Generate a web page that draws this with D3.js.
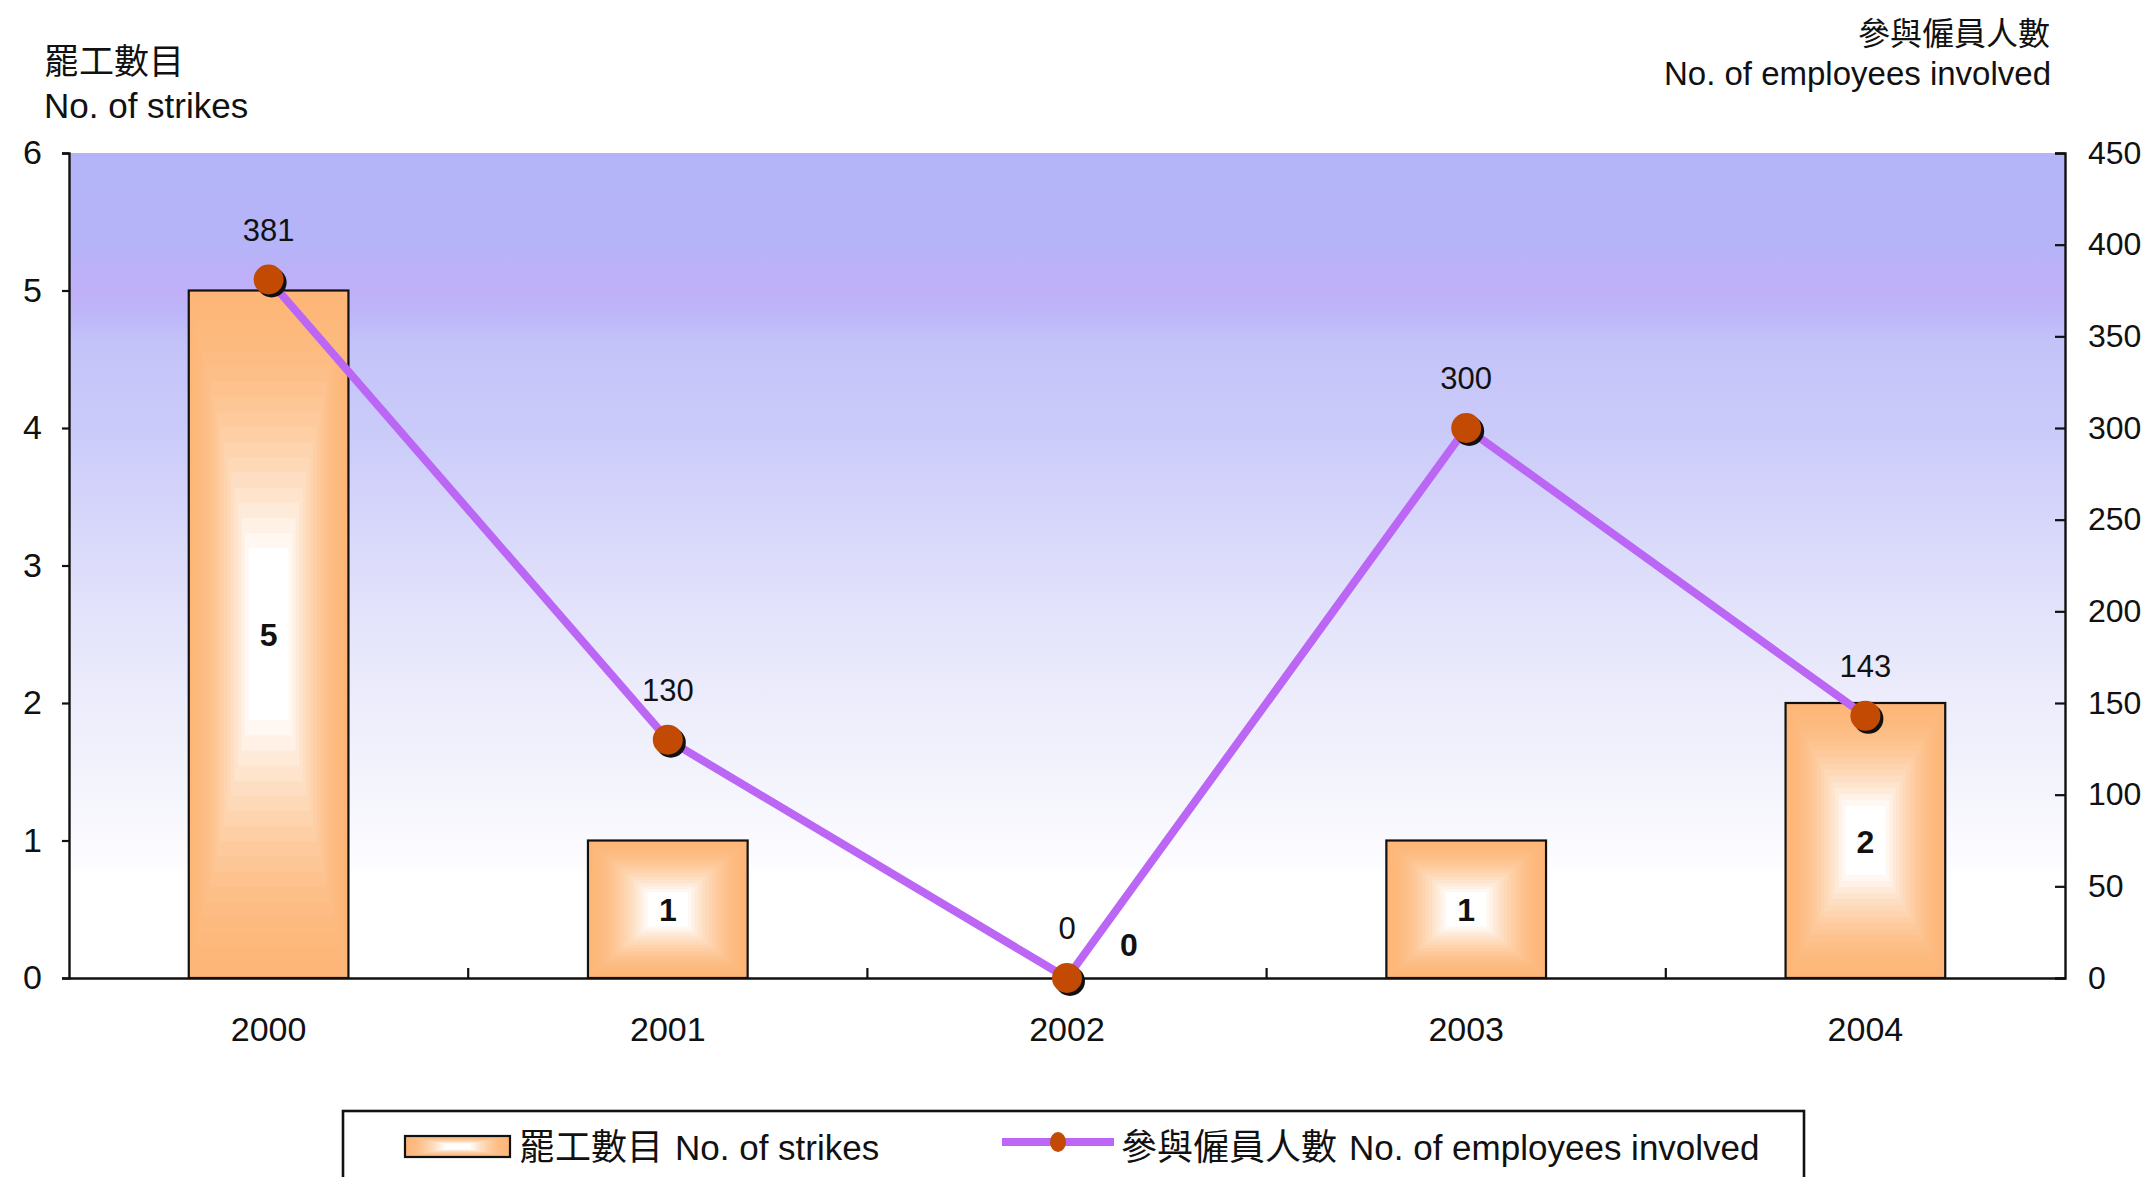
<!DOCTYPE html>
<html>
<head>
<meta charset="utf-8">
<script src="https://cdn.jsdelivr.net/npm/d3@7"></script>
<style>
  html, body { margin: 0; padding: 0; background: #ffffff; }
  svg { display: block; }
  text { font-family: "Liberation Sans", Arial, "Noto Sans CJK TC", sans-serif; fill: #111; }
</style>
</head>
<body>
<svg id="chart" width="2151" height="1177"></svg>
<script>
const years = ["2000", "2001", "2002", "2003", "2004"];
const strikes = [5, 1, 0, 1, 2];
const employees = [381, 130, 0, 300, 143];
const leftTicks = [0, 1, 2, 3, 4, 5, 6];
const rightTicks = [0, 50, 100, 150, 200, 250, 300, 350, 400, 450];

const leftTitleZh = "罷工數目";
const leftTitleEn = "No. of strikes";
const rightTitleZh = "參與僱員人數";
const rightTitleEn = "No. of employees involved";

const plot = { left: 69, right: 2065, top: 153, bottom: 978 };
const cjk = "'Noto Sans CJK TC', sans-serif";

const svg = d3.select("#chart");
const defs = svg.append("defs");

// Background gradient
const bg = defs.append("linearGradient").attr("id", "bgGrad")
  .attr("x1", 0).attr("y1", 0).attr("x2", 0).attr("y2", 1);
[[0, "#b4b4f8"], [0.11, "#b6b4f8"], [0.145, "#bdb1f8"], [0.17, "#c0b0f8"], [0.195, "#bdb6f8"],
 [0.23, "#c3c3f9"], [0.33, "#cacafa"], [0.44, "#d6d6fa"], [0.56, "#e3e3fb"],
 [0.67, "#ededfc"], [0.78, "#f5f5fd"], [0.84, "#fafaff"], [0.88, "#ffffff"], [1, "#ffffff"]]
  .forEach(([o, c]) => bg.append("stop").attr("offset", o).attr("stop-color", c));

const x = d3.scaleBand().domain(years).range([plot.left, plot.right]).padding(0);
const yL = d3.scaleLinear().domain([0, 6]).range([plot.bottom, plot.top]);
const yR = d3.scaleLinear().domain([0, 450]).range([plot.bottom, plot.top]);

svg.append("rect")
  .attr("x", plot.left).attr("y", plot.top)
  .attr("width", plot.right - plot.left).attr("height", plot.bottom - plot.top)
  .attr("fill", "url(#bgGrad)");

const barW = x.bandwidth() * 0.4;
const edgeColor = "#fdb677";
const interp = d3.interpolateRgb(edgeColor, "#ffffff");
const steps = 18;

function boxGradient(g, x0, y0, w, h, shrink) {
  for (let i = 0; i < steps; i++) {
    const t = i / (steps - 1);
    const k = 1 - shrink * t;
    const ww = w * k, hh = h * k;
    g.append("rect")
      .attr("x", x0 + (w - ww) / 2).attr("y", y0 + (h - hh) / 2)
      .attr("width", ww).attr("height", hh)
      .attr("fill", interp(Math.pow(t, 1.7)));
  }
}

// Bars
const bars = svg.append("g");
years.forEach((yr, i) => {
  const v = strikes[i];
  if (v <= 0) return;
  const cx = x(yr) + x.bandwidth() / 2;
  const y0 = yL(v), h = yL(0) - yL(v);
  const g = bars.append("g");
  boxGradient(g, cx - barW / 2, y0, barW, h, 0.75);
  g.append("rect")
    .attr("x", cx - barW / 2).attr("y", y0)
    .attr("width", barW).attr("height", h)
    .attr("fill", "none").attr("stroke", "#111").attr("stroke-width", 2.2);
});

// Axes
const axL = svg.append("g").attr("transform", `translate(${plot.left},0)`)
  .call(d3.axisLeft(yL).tickValues(leftTicks).tickSize(7).tickPadding(20).tickFormat(d3.format("d")));
axL.select(".domain").attr("stroke", "#111").attr("stroke-width", 2.4);
axL.selectAll(".tick line").attr("stroke", "#111").attr("stroke-width", 2.2);
axL.selectAll(".tick text").style("font-size", "34px").attr("fill", "#111");

const axR = svg.append("g").attr("transform", `translate(${plot.right},0)`)
  .call(d3.axisRight(yR).tickValues(rightTicks).tickSize(-10).tickPadding(23).tickFormat(d3.format("d")));
axR.select(".domain").attr("stroke", "#111").attr("stroke-width", 2.4);
axR.selectAll(".tick line").attr("stroke", "#111").attr("stroke-width", 2.2);
axR.selectAll(".tick text").style("font-size", "32px").attr("fill", "#111");

const axB = svg.append("g").attr("transform", `translate(0,${plot.bottom})`)
  .call(d3.axisBottom(x).tickSize(0).tickPadding(39));
axB.select(".domain").attr("stroke", "#111").attr("stroke-width", 2.4);
axB.selectAll(".tick text").style("font-size", "34px").attr("fill", "#111");

// Category boundary ticks (pointing up)
svg.append("g").selectAll("line")
  .data(years.slice(1))
  .join("line")
  .attr("x1", d => x(d)).attr("x2", d => x(d))
  .attr("y1", plot.bottom).attr("y2", plot.bottom - 10)
  .attr("stroke", "#111").attr("stroke-width", 2.2);

// Bar value labels
svg.append("g").selectAll("text")
  .data(years.map((yr, i) => ({ yr, v: strikes[i] })))
  .join("text")
  .attr("x", d => x(d.yr) + x.bandwidth() / 2 + (d.v === 0 ? 62 : 0))
  .attr("y", d => d.v === 0 ? yL(0) - 22 : (yL(d.v) + yL(0)) / 2 + 12)
  .attr("text-anchor", "middle")
  .style("font-size", "32px").style("font-weight", "bold")
  .text(d => d.v);

// Line
const pts = years.map((yr, i) => ({ yr, v: employees[i] }));
const line = d3.line().x(d => x(d.yr) + x.bandwidth() / 2).y(d => yR(d.v));
svg.append("path").datum(pts)
  .attr("d", line)
  .attr("fill", "none").attr("stroke", "#bb66f4").attr("stroke-width", 8)
  .attr("stroke-linejoin", "round");

const mk = svg.append("g");
mk.selectAll("circle.sh").data(pts).join("circle").attr("class", "sh")
  .attr("cx", d => x(d.yr) + x.bandwidth() / 2 + 3)
  .attr("cy", d => yR(d.v) + 3)
  .attr("r", 15).attr("fill", "#111");
mk.selectAll("circle.pt").data(pts).join("circle").attr("class", "pt")
  .attr("cx", d => x(d.yr) + x.bandwidth() / 2)
  .attr("cy", d => yR(d.v))
  .attr("r", 15).attr("fill", "#c24a02");

svg.append("g").selectAll("text").data(pts).join("text")
  .attr("x", d => x(d.yr) + x.bandwidth() / 2)
  .attr("y", d => yR(d.v) - 39)
  .attr("text-anchor", "middle")
  .style("font-size", "31px").attr("fill", "#222")
  .text(d => d.v);

// Titles
svg.append("text").attr("x", 44).attr("y", 74)
  .style("font-size", "35px").style("font-family", cjk).text(leftTitleZh);
svg.append("text").attr("x", 44).attr("y", 118)
  .style("font-size", "35px").text(leftTitleEn);
svg.append("text").attr("x", 2050).attr("y", 45).attr("text-anchor", "end")
  .style("font-size", "32px").style("font-family", cjk).text(rightTitleZh);
svg.append("text").attr("x", 2051).attr("y", 85).attr("text-anchor", "end")
  .style("font-size", "33px").text(rightTitleEn);

// Legend
const lg = svg.append("g");
lg.append("rect").attr("x", 343).attr("y", 1111).attr("width", 1461).attr("height", 90)
  .attr("fill", "#ffffff").attr("stroke", "#111").attr("stroke-width", 2.6);

const sw = lg.append("g");
boxGradient(sw, 405, 1136, 105, 21, 0.75);
sw.append("rect").attr("x", 405).attr("y", 1136).attr("width", 105).attr("height", 21)
  .attr("fill", "none").attr("stroke", "#111").attr("stroke-width", 2.2);

const t1 = lg.append("text").attr("x", 519).attr("y", 1160).style("font-size", "35px");
t1.append("tspan").style("font-family", cjk).style("font-size", "36px").text(leftTitleZh);
t1.append("tspan").attr("dx", 12).text(leftTitleEn);

lg.append("line").attr("x1", 1002).attr("x2", 1114).attr("y1", 1142).attr("y2", 1142)
  .attr("stroke", "#bb66f4").attr("stroke-width", 8);
lg.append("ellipse").attr("cx", 1058).attr("cy", 1142).attr("rx", 8).attr("ry", 10).attr("fill", "#c24a02");

const t2 = lg.append("text").attr("x", 1121).attr("y", 1160).style("font-size", "35px");
t2.append("tspan").style("font-family", cjk).style("font-size", "36px").text(rightTitleZh);
t2.append("tspan").attr("dx", 12).text(rightTitleEn);
</script>
</body>
</html>
